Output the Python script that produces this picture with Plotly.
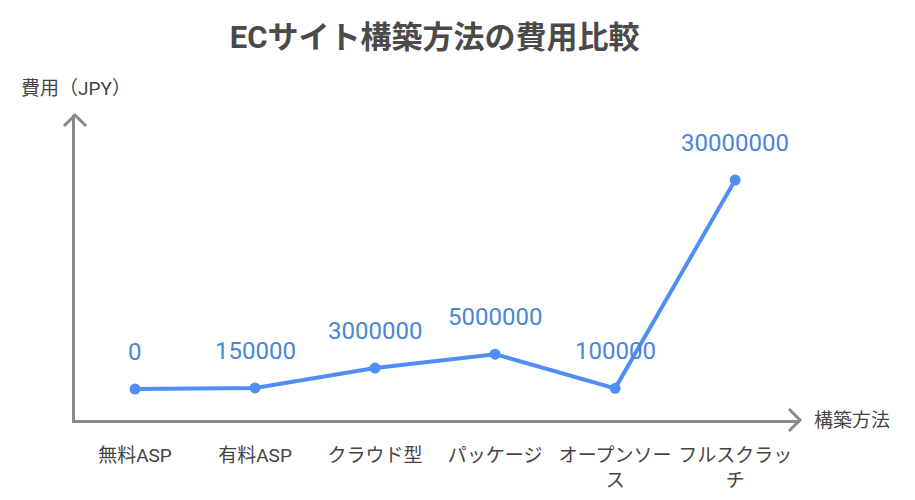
import plotly.graph_objects as go

categories = ["無料ASP", "有料ASP", "クラウド型", "パッケージ", "オープンソース", "フルスクラッチ"]
tick_labels = ["無料ASP", "有料ASP", "クラウド型", "パッケージ", "オープンソー<br>ス", "フルスクラッ<br>チ"]
costs = [0, 150000, 3000000, 5000000, 100000, 30000000]

title = "ECサイト構築方法の費用比較"
x_title = "構築方法"
y_title = "費用（JPY）"

BLUE = "#4f8ef5"
LABEL_BLUE = "#4a86d6"
AXIS = "#8a8a8a"
FONT = "Roboto, 'Noto Sans CJK JP', sans-serif"

idx = list(range(len(categories)))

fig = go.Figure()
fig.add_trace(go.Scatter(
    x=idx, y=costs, mode="lines+markers",
    line=dict(color=BLUE, width=4),
    marker=dict(color=BLUE, size=11),
    hoverinfo="skip", showlegend=False,
))

for i, v in zip(idx, costs):
    fig.add_annotation(x=i, y=v, text=str(v), showarrow=False, yshift=37,
                       font=dict(size=24, color=LABEL_BLUE, family=FONT))

fig.update_layout(
    width=915, height=500,
    margin=dict(l=75, r=115, t=115, b=80, autoexpand=False),
    paper_bgcolor="white", plot_bgcolor="white",
    font=dict(family=FONT, color="#444444"),
    title=dict(text="<b>" + title + "</b>", x=0.475, xanchor="center", y=0.926, yanchor="middle",
               font=dict(size=31, color="#4a4a4a", family=FONT)),
    xaxis=dict(range=[-0.5, 5.54], tickmode="array", tickvals=idx, ticktext=tick_labels,
               showgrid=False, zeroline=False, showline=True, linecolor=AXIS, linewidth=3,
               ticks="outside", ticklen=16, tickcolor="rgba(0,0,0,0)", automargin=False,
               tickfont=dict(size=19, color="#444444", family=FONT), fixedrange=True),
    yaxis=dict(range=[-4450000, 39330000], showgrid=False, zeroline=False, showticklabels=False,
               showline=True, linecolor=AXIS, linewidth=3, fixedrange=True, automargin=False),
)

# arrow heads
fig.add_shape(type="path", xref="paper", yref="paper", xsizemode="pixel", ysizemode="pixel",
              xanchor=1, yanchor=0, path="M -11,11 L 0,0 L -11,-11",
              line=dict(color=AXIS, width=3))
fig.add_shape(type="path", xref="paper", yref="paper", xsizemode="pixel", ysizemode="pixel",
              xanchor=0, yanchor=1, path="M -11,-11 L 0,0 L 11,-11",
              line=dict(color=AXIS, width=3))

fig.add_annotation(xref="paper", yref="paper", x=1, y=0, xshift=12, text=x_title,
                   showarrow=False, xanchor="left", yanchor="middle",
                   font=dict(size=19, color="#444444", family=FONT))
fig.add_annotation(xref="paper", yref="paper", x=0, y=1, xshift=-56, yshift=27, text=y_title,
                   showarrow=False, xanchor="left", yanchor="middle",
                   font=dict(size=19, color="#444444", family=FONT))

fig.write_html("out.html")
